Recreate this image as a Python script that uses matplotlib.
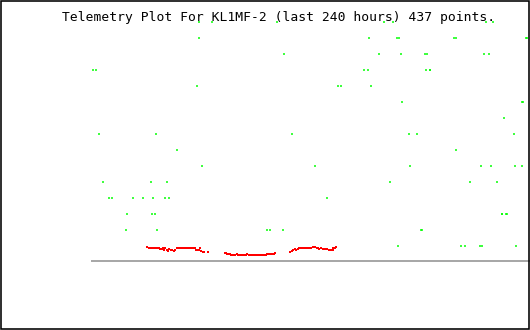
import matplotlib
matplotlib.use("Agg")
import matplotlib.pyplot as plt
from matplotlib.patches import Rectangle

TITLE = "Telemetry Plot For KL1MF-2 (last 240 hours) 437 points."

# green channel: hours since window start, level (1..15)
green_hours = [
    58.4, 65.5, 101.5, 160.2, 164.7, 215.8, 219.7,
    58.8, 151.9, 166.9, 168.4, 198.6, 199.2, 237.6, 238.2,
    105.4, 157.4, 169.5, 182.2, 183.3, 215.0, 217.7,
    0.7, 2.4, 148.8, 151.5, 182.8, 185.1, 185.4,
    57.7, 135.0, 136.6, 153.1,
    170.0, 235.4, 236.4,
    225.9,
    4.1, 35.2, 109.8, 173.9, 178.3, 231.4,
    46.7, 199.6,
    60.4, 122.4, 174.4, 213.3, 218.8, 232.0, 235.8,
    6.2, 32.5, 41.3, 163.5, 207.3, 222.1,
    9.5, 11.1, 22.6, 28.1, 33.6, 40.2, 42.4, 128.9,
    19.3, 33.0, 34.7, 224.4, 224.9, 226.6, 227.6,
    18.8, 35.8, 96.1, 97.7, 104.8, 180.1, 180.6,
    167.8, 202.4, 204.5, 212.8, 213.9, 232.5,
]
green_levels = (
    [15] * 7 + [14] * 8 + [13] * 7 + [12] * 7 + [11] * 4 + [10] * 3 + [9] * 1
    + [8] * 6 + [7] * 2 + [6] * 7 + [5] * 6 + [4] * 8 + [3] * 7 + [2] * 7 + [1] * 6
)

# red channel
red_hours = [
    30.3, 31.4, 32.5, 33.1, 33.8, 34.5, 35.2, 35.9, 36.5, 37.1, 37.8, 38.4,
    38.7, 39.5, 40.2, 40.9, 41.6, 42.4, 43.1, 44.0, 44.9, 45.6, 46.7, 47.5,
    48.2, 48.9, 49.7, 50.4, 51.1, 51.9, 52.6, 53.3, 54.1, 54.8, 55.5, 56.3,
    57.0, 57.7, 58.5, 59.2, 59.9, 61.0, 61.6, 63.7,
    72.7, 73.4, 74.2, 74.9, 75.6, 76.3, 77.1, 77.8, 78.5, 79.3, 80.0, 80.7,
    81.5, 82.2, 82.9, 83.7, 84.4, 85.1, 85.9, 86.6, 87.3, 88.1, 88.8, 89.5,
    90.3, 91.0, 91.7, 92.5, 93.2, 93.9, 94.6, 95.4, 96.1, 96.8, 97.5, 98.3,
    99.0, 99.7, 100.1,
    108.6, 109.6, 110.3, 111.0, 111.8, 112.9, 113.6, 114.4, 115.1, 115.8,
    116.5, 117.3, 118.0, 118.7, 119.5, 120.2, 120.9, 121.6, 122.4, 123.1,
    123.8, 124.6, 125.7, 126.5, 127.2, 127.9, 128.7, 129.8, 130.5, 131.2,
    132.0, 132.3, 133.1, 133.8,
]
red_levels = [
    0.94, 0.875, 0.875, 0.875, 0.875, 0.875, 0.875, 0.875, 0.875, 0.79, 0.79, 0.79,
    0.84, 0.75, 0.84, 0.75, 0.67, 0.79, 0.71, 0.75, 0.67, 0.75, 0.84, 0.84,
    0.84, 0.84, 0.84, 0.84, 0.84, 0.84, 0.875, 0.84, 0.84, 0.84, 0.84, 0.84,
    0.75, 0.75, 0.75, 0.84, 0.67, 0.625, 0.625, 0.625,
    0.54, 0.54, 0.46, 0.46, 0.46, 0.42, 0.42, 0.42, 0.42, 0.5, 0.42, 0.42,
    0.42, 0.42, 0.42, 0.42, 0.42, 0.46, 0.42, 0.42, 0.42, 0.42, 0.42, 0.42,
    0.42, 0.42, 0.42, 0.42, 0.42, 0.42, 0.42, 0.42, 0.5, 0.5, 0.5, 0.5,
    0.5, 0.5, 0.54,
    0.6, 0.69, 0.75, 0.79, 0.75, 0.79, 0.875, 0.875, 0.875, 0.875,
    0.875, 0.875, 0.875, 0.875, 0.875, 0.875, 0.92, 0.92, 0.92, 0.875,
    0.875, 0.79, 0.875, 0.81, 0.81, 0.81, 0.81, 0.75, 0.75, 0.75,
    0.75, 0.875, 0.875, 0.94,
]


def main():
    W, H = 530, 330
    fig = plt.figure(figsize=(W / 100, H / 100), dpi=100)
    px = 72 / 100  # points per pixel

    ax = fig.add_axes([92 / W, 69 / H, 438 / W, 256 / H])
    ax.set_xlim(0, 240)
    ax.set_ylim(0.044, 16.044)
    for s in ("top", "left", "right"):
        ax.spines[s].set_visible(False)
    ax.spines["bottom"].set_color("#a8a8a8")
    ax.spines["bottom"].set_linewidth(2 * px)
    ax.set_xticks([])
    ax.set_yticks([])
    ax.patch.set_alpha(0)

    ax.plot(green_hours, green_levels, linestyle="none", marker="|",
            markersize=2 * px, markeredgewidth=1.5 * px, color="#00ff00",
            antialiased=False, clip_on=False)
    ax.plot(red_hours, red_levels, linestyle="none", marker="s",
            markersize=2 * px, markeredgewidth=0, color="#ff0000",
            clip_on=False)

    fig.text(279 / W, 1 - 17 / H, TITLE, ha="center", va="center",
             family="DejaVu Sans Mono", fontsize=13 * px, color="black")

    # black frame round the picture
    fig.patches.append(Rectangle((0.5 / W, 1.0 / H), 528.5 / W, 328.5 / H,
                                 transform=fig.transFigure, fill=False,
                                 edgecolor="black", linewidth=1.6 * px))

    fig.savefig("out.png", dpi=100, facecolor="white")
    plt.close(fig)


if __name__ == "__main__":
    main()
